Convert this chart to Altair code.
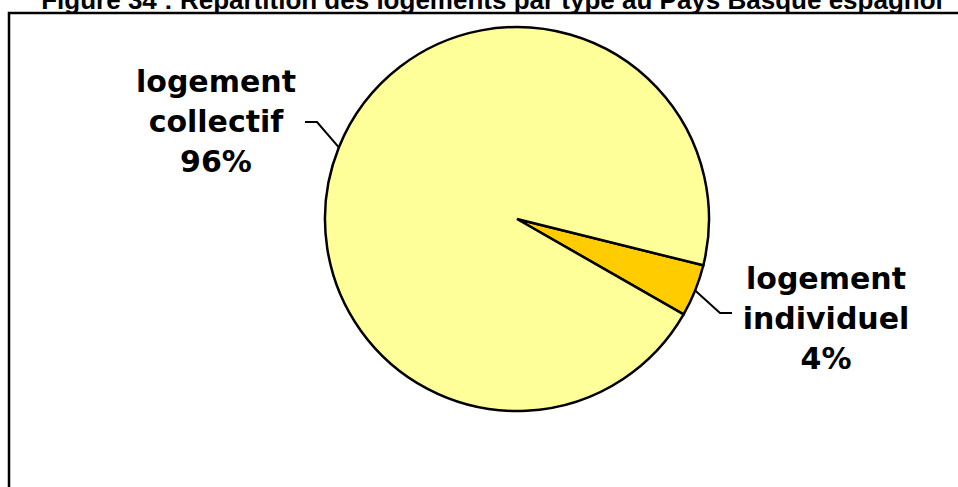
import math
import altair as alt
import pandas as pd

# ---- data ----
categories = ["logement individuel", "logement collectif"]
values = [4.4, 95.6]
pct_labels = ["4%", "96%"]
colors = ["#FFCC00", "#FFFF99"]
title_text = "Figure 34 : Répartition des logements par type au Pays Basque espagnol"

# ---- layout ----
W, H = 958, 487
CX, CY, R = 517, 219, 192
START = math.radians(103.96)
LABEL_FONT = "DejaVu Sans"
LABEL_SIZE = 30
LINE_H = 40

pie_df = pd.DataFrame({
    "cat": categories,
    "value": values,
    "order": list(range(len(categories))),
    "label": [c.replace(" ", "\n") + "\n" + p for c, p in zip(categories, pct_labels)],
})

total = sum(values)
mids = []
acc = 0.0
for v in values:
    mids.append(START + 2 * math.pi * (acc + v / 2) / total)
    acc += v


def edge(a):
    return CX + R * math.sin(a), CY - R * math.cos(a)


e_ind = edge(mids[0])
e_col = edge(mids[1])
leader_df = pd.DataFrame({
    "px": [e_ind[0], 720, 732, e_col[0], 317, 305],
    "py": [e_ind[1], 313, 313, e_col[1], 122, 122],
    "grp": ["i", "i", "i", "c", "c", "c"],
    "ord": [0, 1, 2, 0, 1, 2],
})

base = alt.Chart(pie_df)

pie = base.mark_arc(radius=R, stroke="black", strokeWidth=2.5).encode(
    theta=alt.Theta("value:Q", stack=True,
                    scale=alt.Scale(range=[START, START + 2 * math.pi])),
    color=alt.Color("cat:N", scale=alt.Scale(domain=categories, range=colors), legend=None),
    order=alt.Order("order:Q"),
    x=alt.value(CX),
    y=alt.value(CY),
)

leaders = alt.Chart(leader_df).mark_line(color="black", strokeWidth=2).encode(
    x=alt.X("px:Q", scale=None, axis=None),
    y=alt.Y("py:Q", scale=None, axis=None),
    detail="grp:N",
    order="ord:Q",
)


def label_layer(cat, x, y):
    return base.transform_filter(alt.datum.cat == cat).mark_text(
        font=LABEL_FONT, fontSize=LABEL_SIZE, fontWeight="bold", color="black",
        align="center", baseline="alphabetic", lineBreak="\n", lineHeight=LINE_H,
    ).encode(text="label:N", x=alt.value(x), y=alt.value(y))


lab_col = label_layer(categories[1], 216, 92)
lab_ind = label_layer(categories[0], 826, 289)

border = alt.Chart(pd.DataFrame({"a": [0]})).mark_rect(
    filled=False, stroke="black", strokeWidth=2.5
).encode(x=alt.value(9), x2=alt.value(1200), y=alt.value(13), y2=alt.value(900))

title = alt.Chart(pd.DataFrame({"t": [title_text]})).mark_text(
    font="Liberation Sans", fontSize=26, fontWeight="bold", color="black",
    align="center", baseline="alphabetic",
).encode(text="t:N", x=alt.value(492), y=alt.value(9))

chart = alt.layer(border, pie, leaders, lab_col, lab_ind, title).properties(
    width=W, height=H, padding=0, autosize="none", background="white"
).configure_view(stroke=None)

chart.save("out.html", embed_options={"renderer": "svg", "actions": False})
